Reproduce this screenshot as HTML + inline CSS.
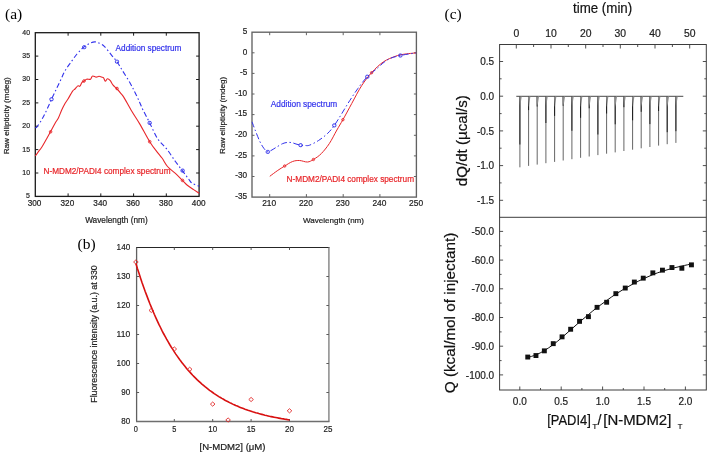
<!DOCTYPE html>
<html><head><meta charset="utf-8"><style>
html,body{margin:0;padding:0;background:#fff;}
body{width:709px;height:454px;overflow:hidden;font-family:"Liberation Sans",sans-serif;}
svg{display:block;}
#wrap{will-change:transform;opacity:0.999;}
</style></head><body>
<div id="wrap"><svg width="709" height="454" viewBox="0 0 709 454">
<rect width="709" height="454" fill="#fff"/>
<text x="5.0" y="19.0" font-size="15.50" fill="#000" text-anchor="start" font-family="Liberation Serif, serif" >(a)</text>
<rect x="35.3" y="32.7" width="163.8" height="163.7" fill="none" stroke="#1a1a1a" stroke-width="1.3"/>
<line x1="68.1" y1="196.4" x2="68.1" y2="193.4" stroke="#1a1a1a" stroke-width="1.00"/>
<line x1="68.1" y1="32.7" x2="68.1" y2="35.7" stroke="#1a1a1a" stroke-width="1.00"/>
<line x1="100.8" y1="196.4" x2="100.8" y2="193.4" stroke="#1a1a1a" stroke-width="1.00"/>
<line x1="100.8" y1="32.7" x2="100.8" y2="35.7" stroke="#1a1a1a" stroke-width="1.00"/>
<line x1="133.6" y1="196.4" x2="133.6" y2="193.4" stroke="#1a1a1a" stroke-width="1.00"/>
<line x1="133.6" y1="32.7" x2="133.6" y2="35.7" stroke="#1a1a1a" stroke-width="1.00"/>
<line x1="166.3" y1="196.4" x2="166.3" y2="193.4" stroke="#1a1a1a" stroke-width="1.00"/>
<line x1="166.3" y1="32.7" x2="166.3" y2="35.7" stroke="#1a1a1a" stroke-width="1.00"/>
<line x1="35.3" y1="173.0" x2="38.3" y2="173.0" stroke="#1a1a1a" stroke-width="1.00"/>
<line x1="199.1" y1="173.0" x2="196.1" y2="173.0" stroke="#1a1a1a" stroke-width="1.00"/>
<line x1="35.3" y1="149.6" x2="38.3" y2="149.6" stroke="#1a1a1a" stroke-width="1.00"/>
<line x1="199.1" y1="149.6" x2="196.1" y2="149.6" stroke="#1a1a1a" stroke-width="1.00"/>
<line x1="35.3" y1="126.2" x2="38.3" y2="126.2" stroke="#1a1a1a" stroke-width="1.00"/>
<line x1="199.1" y1="126.2" x2="196.1" y2="126.2" stroke="#1a1a1a" stroke-width="1.00"/>
<line x1="35.3" y1="102.9" x2="38.3" y2="102.9" stroke="#1a1a1a" stroke-width="1.00"/>
<line x1="199.1" y1="102.9" x2="196.1" y2="102.9" stroke="#1a1a1a" stroke-width="1.00"/>
<line x1="35.3" y1="79.5" x2="38.3" y2="79.5" stroke="#1a1a1a" stroke-width="1.00"/>
<line x1="199.1" y1="79.5" x2="196.1" y2="79.5" stroke="#1a1a1a" stroke-width="1.00"/>
<line x1="35.3" y1="56.1" x2="38.3" y2="56.1" stroke="#1a1a1a" stroke-width="1.00"/>
<line x1="199.1" y1="56.1" x2="196.1" y2="56.1" stroke="#1a1a1a" stroke-width="1.00"/>
<text x="30.0" y="198.3" font-size="7.80" fill="#222" stroke="#222" stroke-width="0.20" text-anchor="end" font-family="Liberation Sans, sans-serif" textLength="3.9" lengthAdjust="spacingAndGlyphs" >5</text>
<text x="30.0" y="174.9" font-size="7.80" fill="#222" stroke="#222" stroke-width="0.20" text-anchor="end" font-family="Liberation Sans, sans-serif" textLength="7.7" lengthAdjust="spacingAndGlyphs" >10</text>
<text x="30.0" y="151.5" font-size="7.80" fill="#222" stroke="#222" stroke-width="0.20" text-anchor="end" font-family="Liberation Sans, sans-serif" textLength="7.7" lengthAdjust="spacingAndGlyphs" >15</text>
<text x="30.0" y="128.1" font-size="7.80" fill="#222" stroke="#222" stroke-width="0.20" text-anchor="end" font-family="Liberation Sans, sans-serif" textLength="7.7" lengthAdjust="spacingAndGlyphs" >20</text>
<text x="30.0" y="104.8" font-size="7.80" fill="#222" stroke="#222" stroke-width="0.20" text-anchor="end" font-family="Liberation Sans, sans-serif" textLength="7.7" lengthAdjust="spacingAndGlyphs" >25</text>
<text x="30.0" y="81.4" font-size="7.80" fill="#222" stroke="#222" stroke-width="0.20" text-anchor="end" font-family="Liberation Sans, sans-serif" textLength="7.7" lengthAdjust="spacingAndGlyphs" >30</text>
<text x="30.0" y="58.0" font-size="7.80" fill="#222" stroke="#222" stroke-width="0.20" text-anchor="end" font-family="Liberation Sans, sans-serif" textLength="7.7" lengthAdjust="spacingAndGlyphs" >35</text>
<text x="30.0" y="34.6" font-size="7.80" fill="#222" stroke="#222" stroke-width="0.20" text-anchor="end" font-family="Liberation Sans, sans-serif" textLength="7.7" lengthAdjust="spacingAndGlyphs" >40</text>
<text x="34.6" y="206.0" font-size="8.20" fill="#222" stroke="#222" stroke-width="0.20" text-anchor="middle" font-family="Liberation Sans, sans-serif" >300</text>
<text x="67.4" y="206.0" font-size="8.20" fill="#222" stroke="#222" stroke-width="0.20" text-anchor="middle" font-family="Liberation Sans, sans-serif" >320</text>
<text x="100.2" y="206.0" font-size="8.20" fill="#222" stroke="#222" stroke-width="0.20" text-anchor="middle" font-family="Liberation Sans, sans-serif" >340</text>
<text x="133.1" y="206.0" font-size="8.20" fill="#222" stroke="#222" stroke-width="0.20" text-anchor="middle" font-family="Liberation Sans, sans-serif" >360</text>
<text x="165.9" y="206.0" font-size="8.20" fill="#222" stroke="#222" stroke-width="0.20" text-anchor="middle" font-family="Liberation Sans, sans-serif" >380</text>
<text x="198.7" y="206.0" font-size="8.20" fill="#222" stroke="#222" stroke-width="0.20" text-anchor="middle" font-family="Liberation Sans, sans-serif" >400</text>
<text x="116.4" y="223.2" font-size="8.30" fill="#222" stroke="#222" stroke-width="0.20" text-anchor="middle" font-family="Liberation Sans, sans-serif" textLength="62.5" lengthAdjust="spacingAndGlyphs" >Wavelength (nm)</text>
<text x="0" y="0" font-size="8.10" fill="#222" stroke="#222" stroke-width="0.20" text-anchor="middle" font-family="Liberation Sans, sans-serif" textLength="77.0" lengthAdjust="spacingAndGlyphs" transform="translate(8.8 115.8) rotate(-90)">Raw ellipticity (mdeg)</text>
<path d="M35.3 127.5 C35.6 127.4 35.9 128.2 37.0 126.8 C38.1 125.3 40.6 121.7 42.2 118.8 C43.9 115.9 45.4 112.8 46.9 109.6 C48.4 106.3 50.1 102.4 51.5 99.3 C52.9 96.2 54.0 94.1 55.4 91.1 C56.8 88.1 58.5 84.5 60.1 81.2 C61.7 77.9 63.0 74.4 64.7 71.3 C66.5 68.2 68.5 65.6 70.6 62.7 C72.6 59.8 74.8 56.5 77.0 54.0 C79.2 51.5 81.2 49.2 83.5 47.4 C85.8 45.5 88.5 43.8 90.5 42.9 C92.5 42.0 93.8 41.8 95.4 41.9 C97.0 42.0 98.5 42.8 100.0 43.5 C101.5 44.2 102.4 44.4 104.3 46.3 C106.2 48.2 109.2 52.2 111.3 54.8 C113.4 57.4 115.1 59.2 116.9 61.7 C118.7 64.2 119.8 66.2 121.9 69.7 C124.1 73.2 127.6 78.7 129.8 82.5 C132.0 86.3 133.3 89.2 135.0 92.5 C136.7 95.8 138.4 99.5 139.7 102.4 C141.0 105.3 141.3 106.6 143.0 110.0 C144.7 113.4 147.3 118.1 149.7 122.9 C152.1 127.7 154.8 134.4 157.6 138.7 C160.4 143.0 163.5 144.9 166.5 148.7 C169.5 152.5 172.6 157.7 175.4 161.5 C178.2 165.3 181.0 168.9 183.2 171.8 C185.4 174.7 187.0 176.9 188.5 178.8 C190.0 180.7 190.2 181.9 192.0 183.2 C193.8 184.4 197.9 185.8 199.1 186.3" fill="none" stroke="#3232ec" stroke-width="1.1" stroke-dasharray="5 2.5 1.5 2.5"/>
<path d="M35.3 156.0 C35.7 155.4 36.8 153.8 37.9 152.3 C39.0 150.8 40.3 149.4 41.9 147.0 C43.5 144.6 45.8 140.3 47.2 137.8 C48.6 135.3 49.2 134.2 50.5 131.8 C51.8 129.4 53.8 125.5 55.1 123.2 C56.4 120.9 57.3 120.1 58.4 117.9 C59.5 115.7 60.6 112.4 61.7 110.0 C62.8 107.6 64.0 105.3 65.0 103.5 C66.0 101.7 66.7 101.1 68.0 99.0 C69.3 96.9 71.4 92.8 72.6 91.1 C73.8 89.4 74.1 89.9 75.0 89.0 C75.9 88.1 77.0 86.4 77.8 85.9 C78.6 85.4 79.2 86.8 79.9 86.2 C80.6 85.6 81.3 83.1 82.0 82.3 C82.7 81.5 83.0 81.8 83.8 81.3 C84.6 80.8 85.5 79.5 86.6 79.2 C87.7 78.9 89.5 79.7 90.5 79.2 C91.5 78.7 91.6 76.3 92.6 76.0 C93.5 75.7 95.1 77.0 96.2 77.1 C97.3 77.1 98.1 76.3 99.0 76.3 C99.9 76.3 101.0 76.8 101.8 77.1 C102.6 77.3 103.0 77.1 103.6 77.8 C104.2 78.5 104.7 81.1 105.3 81.3 C105.9 81.5 106.6 78.9 107.4 78.8 C108.2 78.7 109.3 79.5 110.3 80.6 C111.2 81.7 112.0 83.9 113.1 85.2 C114.1 86.5 115.3 87.2 116.6 88.5 C117.9 89.8 119.6 91.8 120.8 93.3 C122.0 94.8 122.1 94.4 123.9 97.4 C125.7 100.4 129.2 106.9 131.8 111.3 C134.4 115.7 136.7 118.8 139.7 123.9 C142.7 129.0 146.7 136.9 149.7 141.7 C152.7 146.5 155.5 149.9 157.6 152.6 C159.7 155.3 160.3 155.7 162.0 158.0 C163.7 160.3 165.3 163.9 167.5 166.5 C169.7 169.1 172.9 171.1 175.4 173.4 C177.9 175.7 180.5 178.5 182.4 180.4 C184.3 182.3 185.1 183.5 187.0 185.0 C188.9 186.5 191.8 188.4 193.6 189.6 C195.4 190.8 196.7 191.7 197.6 192.3 C198.5 192.9 198.9 193.1 199.2 193.3" fill="none" stroke="#e8262a" stroke-width="1.1"/>
<rect x="49.9" y="97.8" width="3.2" height="3.0" rx="1.1" fill="none" stroke="#3232ec" stroke-width="1.0"/>
<rect x="82.6" y="45.7" width="3.2" height="3.0" rx="1.1" fill="none" stroke="#3232ec" stroke-width="1.0"/>
<rect x="115.4" y="60.2" width="3.2" height="3.0" rx="1.1" fill="none" stroke="#3232ec" stroke-width="1.0"/>
<rect x="148.1" y="121.4" width="3.2" height="3.0" rx="1.1" fill="none" stroke="#3232ec" stroke-width="1.0"/>
<rect x="181.0" y="169.1" width="3.2" height="3.0" rx="1.1" fill="none" stroke="#3232ec" stroke-width="1.0"/>
<circle cx="50.6" cy="131.8" r="1.3" fill="none" stroke="#e8262a" stroke-width="0.9"/>
<circle cx="84.0" cy="81.0" r="1.3" fill="none" stroke="#e8262a" stroke-width="0.9"/>
<circle cx="117.0" cy="88.5" r="1.3" fill="none" stroke="#e8262a" stroke-width="0.9"/>
<circle cx="149.7" cy="141.7" r="1.3" fill="none" stroke="#e8262a" stroke-width="0.9"/>
<circle cx="182.5" cy="180.4" r="1.3" fill="none" stroke="#e8262a" stroke-width="0.9"/>
<text x="115.6" y="51.2" font-size="8.20" fill="#3232ec" stroke="#3232ec" stroke-width="0.20" text-anchor="start" font-family="Liberation Sans, sans-serif" textLength="65.8" lengthAdjust="spacingAndGlyphs" >Addition spectrum</text>
<text x="43.5" y="173.8" font-size="8.20" fill="#e8262a" stroke="#e8262a" stroke-width="0.20" text-anchor="start" font-family="Liberation Sans, sans-serif" textLength="127.0" lengthAdjust="spacingAndGlyphs" >N-MDM2/PADI4 complex spectrum</text>
<rect x="252.0" y="32.2" width="164.4" height="164.9" fill="none" stroke="#626262" stroke-width="1.35"/>
<line x1="269.7" y1="197.1" x2="269.7" y2="194.1" stroke="#626262" stroke-width="1.00"/>
<line x1="269.7" y1="32.2" x2="269.7" y2="35.2" stroke="#626262" stroke-width="1.00"/>
<line x1="306.4" y1="197.1" x2="306.4" y2="194.1" stroke="#626262" stroke-width="1.00"/>
<line x1="306.4" y1="32.2" x2="306.4" y2="35.2" stroke="#626262" stroke-width="1.00"/>
<line x1="343.2" y1="197.1" x2="343.2" y2="194.1" stroke="#626262" stroke-width="1.00"/>
<line x1="343.2" y1="32.2" x2="343.2" y2="35.2" stroke="#626262" stroke-width="1.00"/>
<line x1="379.9" y1="197.1" x2="379.9" y2="194.1" stroke="#626262" stroke-width="1.00"/>
<line x1="379.9" y1="32.2" x2="379.9" y2="35.2" stroke="#626262" stroke-width="1.00"/>
<line x1="252.0" y1="52.8" x2="254.5" y2="52.8" stroke="#626262" stroke-width="1.00"/>
<line x1="416.4" y1="52.8" x2="413.9" y2="52.8" stroke="#626262" stroke-width="1.00"/>
<line x1="252.0" y1="73.4" x2="254.5" y2="73.4" stroke="#626262" stroke-width="1.00"/>
<line x1="416.4" y1="73.4" x2="413.9" y2="73.4" stroke="#626262" stroke-width="1.00"/>
<line x1="252.0" y1="94.0" x2="254.5" y2="94.0" stroke="#626262" stroke-width="1.00"/>
<line x1="416.4" y1="94.0" x2="413.9" y2="94.0" stroke="#626262" stroke-width="1.00"/>
<line x1="252.0" y1="114.6" x2="254.5" y2="114.6" stroke="#626262" stroke-width="1.00"/>
<line x1="416.4" y1="114.6" x2="413.9" y2="114.6" stroke="#626262" stroke-width="1.00"/>
<line x1="252.0" y1="135.3" x2="254.5" y2="135.3" stroke="#626262" stroke-width="1.00"/>
<line x1="416.4" y1="135.3" x2="413.9" y2="135.3" stroke="#626262" stroke-width="1.00"/>
<line x1="252.0" y1="155.9" x2="254.5" y2="155.9" stroke="#626262" stroke-width="1.00"/>
<line x1="416.4" y1="155.9" x2="413.9" y2="155.9" stroke="#626262" stroke-width="1.00"/>
<line x1="252.0" y1="176.5" x2="254.5" y2="176.5" stroke="#626262" stroke-width="1.00"/>
<line x1="416.4" y1="176.5" x2="413.9" y2="176.5" stroke="#626262" stroke-width="1.00"/>
<text x="247.2" y="33.9" font-size="8.20" fill="#222" stroke="#222" stroke-width="0.20" text-anchor="end" font-family="Liberation Sans, sans-serif" >5</text>
<text x="247.2" y="54.5" font-size="8.20" fill="#222" stroke="#222" stroke-width="0.20" text-anchor="end" font-family="Liberation Sans, sans-serif" >0</text>
<text x="247.2" y="75.1" font-size="8.20" fill="#222" stroke="#222" stroke-width="0.20" text-anchor="end" font-family="Liberation Sans, sans-serif" >-5</text>
<text x="247.2" y="95.7" font-size="8.20" fill="#222" stroke="#222" stroke-width="0.20" text-anchor="end" font-family="Liberation Sans, sans-serif" >-10</text>
<text x="247.2" y="116.3" font-size="8.20" fill="#222" stroke="#222" stroke-width="0.20" text-anchor="end" font-family="Liberation Sans, sans-serif" >-15</text>
<text x="247.2" y="137.0" font-size="8.20" fill="#222" stroke="#222" stroke-width="0.20" text-anchor="end" font-family="Liberation Sans, sans-serif" >-20</text>
<text x="247.2" y="157.6" font-size="8.20" fill="#222" stroke="#222" stroke-width="0.20" text-anchor="end" font-family="Liberation Sans, sans-serif" >-25</text>
<text x="247.2" y="178.2" font-size="8.20" fill="#222" stroke="#222" stroke-width="0.20" text-anchor="end" font-family="Liberation Sans, sans-serif" >-30</text>
<text x="247.2" y="198.8" font-size="8.20" fill="#222" stroke="#222" stroke-width="0.20" text-anchor="end" font-family="Liberation Sans, sans-serif" >-35</text>
<text x="269.2" y="205.9" font-size="8.40" fill="#222" stroke="#222" stroke-width="0.20" text-anchor="middle" font-family="Liberation Sans, sans-serif" >210</text>
<text x="305.9" y="205.9" font-size="8.40" fill="#222" stroke="#222" stroke-width="0.20" text-anchor="middle" font-family="Liberation Sans, sans-serif" >220</text>
<text x="342.7" y="205.9" font-size="8.40" fill="#222" stroke="#222" stroke-width="0.20" text-anchor="middle" font-family="Liberation Sans, sans-serif" >230</text>
<text x="379.4" y="205.9" font-size="8.40" fill="#222" stroke="#222" stroke-width="0.20" text-anchor="middle" font-family="Liberation Sans, sans-serif" >240</text>
<text x="416.1" y="205.9" font-size="8.40" fill="#222" stroke="#222" stroke-width="0.20" text-anchor="middle" font-family="Liberation Sans, sans-serif" >250</text>
<text x="333.5" y="222.7" font-size="7.80" fill="#222" stroke="#222" stroke-width="0.20" text-anchor="middle" font-family="Liberation Sans, sans-serif" textLength="61.0" lengthAdjust="spacingAndGlyphs" >Wavelength (nm)</text>
<text x="0" y="0" font-size="7.90" fill="#222" stroke="#222" stroke-width="0.20" text-anchor="middle" font-family="Liberation Sans, sans-serif" textLength="77.0" lengthAdjust="spacingAndGlyphs" transform="translate(224.6 115.4) rotate(-90)">Raw ellipticity (mdeg)</text>
<path d="M269.8 176.3 C271.1 175.3 275.3 172.1 277.8 170.4 C280.3 168.7 282.2 167.5 284.7 166.0 C287.2 164.5 290.1 162.4 292.6 161.5 C295.1 160.6 297.1 160.4 299.6 160.5 C302.1 160.6 305.2 162.2 307.5 162.0 C309.8 161.8 311.1 160.9 313.4 159.5 C315.7 158.1 318.8 156.2 321.4 153.5 C324.0 150.8 326.7 147.5 329.3 143.6 C331.9 139.7 334.6 134.0 336.9 130.0 C339.2 126.0 340.4 124.1 342.9 119.7 C345.4 115.3 348.7 109.1 351.8 103.4 C354.9 97.7 358.4 90.7 361.7 85.6 C365.0 80.5 368.0 76.7 371.6 72.7 C375.2 68.7 379.5 64.5 383.5 61.8 C387.5 59.1 392.1 57.5 395.4 56.3 C398.7 55.0 399.9 54.9 403.4 54.3 C406.9 53.7 414.1 53.1 416.2 52.9" fill="none" stroke="#e8262a" stroke-width="1.0"/>
<path d="M252.0 121.8 C252.5 123.1 253.7 126.4 255.0 129.7 C256.3 133.0 258.4 138.5 259.9 141.6 C261.4 144.7 262.7 146.8 264.0 148.5 C265.3 150.2 266.6 151.6 267.8 151.9 C269.0 152.2 269.7 151.2 271.0 150.5 C272.3 149.8 273.9 148.8 275.8 147.6 C277.8 146.4 280.8 144.4 282.7 143.6 C284.6 142.8 285.5 142.7 287.0 142.5 C288.5 142.3 290.1 142.3 291.6 142.6 C293.1 142.8 294.5 143.6 296.0 144.0 C297.5 144.4 299.1 144.9 300.6 145.2 C302.1 145.4 303.5 145.5 305.0 145.5 C306.5 145.5 307.3 146.0 309.5 145.2 C311.7 144.4 315.4 142.5 318.4 140.6 C321.4 138.7 324.6 136.2 327.3 133.7 C330.0 131.2 331.9 128.8 334.3 125.4 C336.7 122.0 339.3 117.6 341.9 113.4 C344.5 109.2 347.1 104.6 349.8 100.5 C352.5 96.4 354.9 92.6 357.8 88.6 C360.7 84.6 364.3 79.8 367.3 76.7 C370.3 73.6 372.2 72.5 375.6 69.7 C379.0 66.9 383.4 62.2 387.5 59.8 C391.6 57.4 395.6 56.6 400.4 55.5 C405.2 54.4 413.6 53.3 416.2 52.9" fill="none" stroke="#3232ec" stroke-width="1.0" stroke-dasharray="6 2.5 1.5 2.5"/>
<rect x="266.2" y="150.4" width="3.2" height="3.0" rx="1.1" fill="none" stroke="#3232ec" stroke-width="1.0"/>
<rect x="299.0" y="143.7" width="3.2" height="3.0" rx="1.1" fill="none" stroke="#3232ec" stroke-width="1.0"/>
<rect x="332.7" y="123.9" width="3.2" height="3.0" rx="1.1" fill="none" stroke="#3232ec" stroke-width="1.0"/>
<rect x="365.7" y="75.2" width="3.2" height="3.0" rx="1.1" fill="none" stroke="#3232ec" stroke-width="1.0"/>
<rect x="398.8" y="54.0" width="3.2" height="3.0" rx="1.1" fill="none" stroke="#3232ec" stroke-width="1.0"/>
<circle cx="284.7" cy="166.0" r="1.2" fill="none" stroke="#e8262a" stroke-width="0.9"/>
<circle cx="313.4" cy="159.5" r="1.2" fill="none" stroke="#e8262a" stroke-width="0.9"/>
<circle cx="342.9" cy="119.7" r="1.2" fill="none" stroke="#e8262a" stroke-width="0.9"/>
<circle cx="371.6" cy="72.7" r="1.2" fill="none" stroke="#e8262a" stroke-width="0.9"/>
<text x="270.8" y="106.8" font-size="8.80" fill="#3232ec" stroke="#3232ec" stroke-width="0.20" text-anchor="start" font-family="Liberation Sans, sans-serif" textLength="66.4" lengthAdjust="spacingAndGlyphs" >Addition spectrum</text>
<text x="286.6" y="181.7" font-size="8.40" fill="#e8262a" stroke="#e8262a" stroke-width="0.20" text-anchor="start" font-family="Liberation Sans, sans-serif" textLength="127.4" lengthAdjust="spacingAndGlyphs" >N-MDM2/PADI4 complex spectrum</text>
<text x="77.6" y="249.0" font-size="15.50" fill="#000" text-anchor="start" font-family="Liberation Serif, serif" >(b)</text>
<line x1="136.0" y1="247.5" x2="329.5" y2="247.5" stroke="#262626" stroke-width="1.00"/>
<line x1="328.9" y1="247.5" x2="328.9" y2="421.5" stroke="#8a8a8a" stroke-width="1.50"/>
<line x1="136.6" y1="247.5" x2="136.6" y2="421.5" stroke="#606060" stroke-width="1.30"/>
<line x1="136.0" y1="421.5" x2="329.5" y2="421.5" stroke="#6e6e6e" stroke-width="1.50"/>
<line x1="174.3" y1="421.5" x2="174.3" y2="419.0" stroke="#5a5a5a" stroke-width="1.00"/>
<line x1="174.3" y1="247.5" x2="174.3" y2="250.0" stroke="#5a5a5a" stroke-width="1.00"/>
<line x1="212.7" y1="421.5" x2="212.7" y2="419.0" stroke="#5a5a5a" stroke-width="1.00"/>
<line x1="212.7" y1="247.5" x2="212.7" y2="250.0" stroke="#5a5a5a" stroke-width="1.00"/>
<line x1="251.1" y1="421.5" x2="251.1" y2="419.0" stroke="#5a5a5a" stroke-width="1.00"/>
<line x1="251.1" y1="247.5" x2="251.1" y2="250.0" stroke="#5a5a5a" stroke-width="1.00"/>
<line x1="289.5" y1="421.5" x2="289.5" y2="419.0" stroke="#5a5a5a" stroke-width="1.00"/>
<line x1="289.5" y1="247.5" x2="289.5" y2="250.0" stroke="#5a5a5a" stroke-width="1.00"/>
<line x1="136.6" y1="392.5" x2="139.1" y2="392.5" stroke="#5a5a5a" stroke-width="1.00"/>
<line x1="328.9" y1="392.5" x2="326.4" y2="392.5" stroke="#5a5a5a" stroke-width="1.00"/>
<line x1="136.6" y1="363.5" x2="139.1" y2="363.5" stroke="#5a5a5a" stroke-width="1.00"/>
<line x1="328.9" y1="363.5" x2="326.4" y2="363.5" stroke="#5a5a5a" stroke-width="1.00"/>
<line x1="136.6" y1="334.5" x2="139.1" y2="334.5" stroke="#5a5a5a" stroke-width="1.00"/>
<line x1="328.9" y1="334.5" x2="326.4" y2="334.5" stroke="#5a5a5a" stroke-width="1.00"/>
<line x1="136.6" y1="305.5" x2="139.1" y2="305.5" stroke="#5a5a5a" stroke-width="1.00"/>
<line x1="328.9" y1="305.5" x2="326.4" y2="305.5" stroke="#5a5a5a" stroke-width="1.00"/>
<line x1="136.6" y1="276.5" x2="139.1" y2="276.5" stroke="#5a5a5a" stroke-width="1.00"/>
<line x1="328.9" y1="276.5" x2="326.4" y2="276.5" stroke="#5a5a5a" stroke-width="1.00"/>
<text x="130.2" y="423.9" font-size="9.30" fill="#222" stroke="#222" stroke-width="0.20" text-anchor="end" font-family="Liberation Sans, sans-serif" textLength="8.9" lengthAdjust="spacingAndGlyphs" >80</text>
<text x="130.2" y="394.9" font-size="9.30" fill="#222" stroke="#222" stroke-width="0.20" text-anchor="end" font-family="Liberation Sans, sans-serif" textLength="8.9" lengthAdjust="spacingAndGlyphs" >90</text>
<text x="130.2" y="365.9" font-size="9.30" fill="#222" stroke="#222" stroke-width="0.20" text-anchor="end" font-family="Liberation Sans, sans-serif" textLength="13.6" lengthAdjust="spacingAndGlyphs" >100</text>
<text x="130.2" y="336.9" font-size="9.30" fill="#222" stroke="#222" stroke-width="0.20" text-anchor="end" font-family="Liberation Sans, sans-serif" textLength="13.6" lengthAdjust="spacingAndGlyphs" >110</text>
<text x="130.2" y="307.9" font-size="9.30" fill="#222" stroke="#222" stroke-width="0.20" text-anchor="end" font-family="Liberation Sans, sans-serif" textLength="13.6" lengthAdjust="spacingAndGlyphs" >120</text>
<text x="130.2" y="278.9" font-size="9.30" fill="#222" stroke="#222" stroke-width="0.20" text-anchor="end" font-family="Liberation Sans, sans-serif" textLength="13.6" lengthAdjust="spacingAndGlyphs" >130</text>
<text x="130.2" y="249.9" font-size="9.30" fill="#222" stroke="#222" stroke-width="0.20" text-anchor="end" font-family="Liberation Sans, sans-serif" textLength="13.6" lengthAdjust="spacingAndGlyphs" >140</text>
<text x="135.9" y="431.9" font-size="9.10" fill="#222" stroke="#222" stroke-width="0.20" text-anchor="middle" font-family="Liberation Sans, sans-serif" textLength="4.1" lengthAdjust="spacingAndGlyphs" >0</text>
<text x="174.3" y="431.9" font-size="9.10" fill="#222" stroke="#222" stroke-width="0.20" text-anchor="middle" font-family="Liberation Sans, sans-serif" textLength="4.1" lengthAdjust="spacingAndGlyphs" >5</text>
<text x="212.7" y="431.9" font-size="9.10" fill="#222" stroke="#222" stroke-width="0.20" text-anchor="middle" font-family="Liberation Sans, sans-serif" textLength="8.9" lengthAdjust="spacingAndGlyphs" >10</text>
<text x="251.1" y="431.9" font-size="9.10" fill="#222" stroke="#222" stroke-width="0.20" text-anchor="middle" font-family="Liberation Sans, sans-serif" textLength="8.9" lengthAdjust="spacingAndGlyphs" >15</text>
<text x="289.5" y="431.9" font-size="9.10" fill="#222" stroke="#222" stroke-width="0.20" text-anchor="middle" font-family="Liberation Sans, sans-serif" textLength="8.9" lengthAdjust="spacingAndGlyphs" >20</text>
<text x="327.9" y="431.9" font-size="9.10" fill="#222" stroke="#222" stroke-width="0.20" text-anchor="middle" font-family="Liberation Sans, sans-serif" textLength="8.9" lengthAdjust="spacingAndGlyphs" >25</text>
<text x="199.5" y="450.0" font-size="8.70" fill="#222" stroke="#222" stroke-width="0.20" text-anchor="start" font-family="Liberation Sans, sans-serif" textLength="66.0" lengthAdjust="spacingAndGlyphs" >[N-MDM2] (μM)</text>
<text x="0" y="0" font-size="8.80" fill="#222" stroke="#222" stroke-width="0.20" text-anchor="middle" font-family="Liberation Sans, sans-serif" textLength="137.5" lengthAdjust="spacingAndGlyphs" transform="translate(96.6 334.0) rotate(-90)">Fluorescence intensity (a.u.) at 330</text>
<path d="M135.9 263.4 L137.4 268.5 L139.0 273.3 L140.5 278.0 L142.0 282.6 L143.6 287.0 L145.1 291.3 L146.7 295.4 L148.2 299.4 L149.7 303.3 L151.3 307.1 L152.8 310.8 L154.3 314.3 L155.9 317.8 L157.4 321.1 L158.9 324.4 L160.5 327.5 L162.0 330.6 L163.5 333.5 L165.1 336.4 L166.6 339.2 L168.2 341.8 L169.7 344.5 L171.2 347.0 L172.8 349.4 L174.3 351.8 L175.8 354.1 L177.4 356.4 L178.9 358.5 L180.4 360.6 L182.0 362.7 L183.5 364.6 L185.1 366.5 L186.6 368.4 L188.1 370.2 L189.7 371.9 L191.2 373.6 L192.7 375.3 L194.3 376.9 L195.8 378.4 L197.3 379.9 L198.9 381.3 L200.4 382.7 L201.9 384.1 L203.5 385.4 L205.0 386.7 L206.6 387.9 L208.1 389.1 L209.6 390.3 L211.2 391.4 L212.7 392.5 L214.2 393.6 L215.8 394.6 L217.3 395.6 L218.8 396.6 L220.4 397.5 L221.9 398.4 L223.5 399.3 L225.0 400.2 L226.5 401.0 L228.1 401.8 L229.6 402.6 L231.1 403.3 L232.7 404.1 L234.2 404.8 L235.7 405.5 L237.3 406.1 L238.8 406.8 L240.3 407.4 L241.9 408.0 L243.4 408.6 L245.0 409.2 L246.5 409.7 L248.0 410.3 L249.6 410.8 L251.1 411.3 L252.6 411.8 L254.2 412.2 L255.7 412.7 L257.2 413.1 L258.8 413.6 L260.3 414.0 L261.9 414.4 L263.4 414.8 L264.9 415.2 L266.5 415.5 L268.0 415.9 L269.5 416.3 L271.1 416.6 L272.6 416.9 L274.1 417.2 L275.7 417.5 L277.2 417.8 L278.7 418.1 L280.3 418.4 L281.8 418.7 L283.4 418.9 L284.9 419.2 L286.4 419.4 L288.0 419.7 L289.5 419.9" fill="none" stroke="#d81010" stroke-width="1.6"/>
<path d="M135.9 259.9 l2.3 2.1 l-2.3 2.1 l-2.3 -2.1 z" fill="none" stroke="#e02020" stroke-width="0.85"/>
<path d="M151.3 308.3 l2.3 2.1 l-2.3 2.1 l-2.3 -2.1 z" fill="none" stroke="#e02020" stroke-width="0.85"/>
<path d="M174.3 346.9 l2.3 2.1 l-2.3 2.1 l-2.3 -2.1 z" fill="none" stroke="#e02020" stroke-width="0.85"/>
<path d="M189.7 367.2 l2.3 2.1 l-2.3 2.1 l-2.3 -2.1 z" fill="none" stroke="#e02020" stroke-width="0.85"/>
<path d="M212.7 402.0 l2.3 2.1 l-2.3 2.1 l-2.3 -2.1 z" fill="none" stroke="#e02020" stroke-width="0.85"/>
<path d="M228.1 417.9 l2.3 2.1 l-2.3 2.1 l-2.3 -2.1 z" fill="none" stroke="#e02020" stroke-width="0.85"/>
<path d="M251.1 397.4 l2.3 2.1 l-2.3 2.1 l-2.3 -2.1 z" fill="none" stroke="#e02020" stroke-width="0.85"/>
<path d="M289.5 408.7 l2.3 2.1 l-2.3 2.1 l-2.3 -2.1 z" fill="none" stroke="#e02020" stroke-width="0.85"/>
<text x="444.5" y="19.3" font-size="15.50" fill="#000" text-anchor="start" font-family="Liberation Serif, serif" >(c)</text>
<rect x="499.6" y="44.5" width="206.7" height="345.5" fill="none" stroke="#3c3c3c" stroke-width="1.0"/>
<line x1="499.6" y1="217.3" x2="706.3" y2="217.3" stroke="#3c3c3c" stroke-width="1.00"/>
<line x1="516.3" y1="44.5" x2="516.3" y2="48.5" stroke="#3c3c3c" stroke-width="0.90"/>
<line x1="533.6" y1="44.5" x2="533.6" y2="47.0" stroke="#3c3c3c" stroke-width="0.90"/>
<line x1="551.0" y1="44.5" x2="551.0" y2="48.5" stroke="#3c3c3c" stroke-width="0.90"/>
<line x1="568.3" y1="44.5" x2="568.3" y2="47.0" stroke="#3c3c3c" stroke-width="0.90"/>
<line x1="585.7" y1="44.5" x2="585.7" y2="48.5" stroke="#3c3c3c" stroke-width="0.90"/>
<line x1="603.0" y1="44.5" x2="603.0" y2="47.0" stroke="#3c3c3c" stroke-width="0.90"/>
<line x1="620.3" y1="44.5" x2="620.3" y2="48.5" stroke="#3c3c3c" stroke-width="0.90"/>
<line x1="637.7" y1="44.5" x2="637.7" y2="47.0" stroke="#3c3c3c" stroke-width="0.90"/>
<line x1="655.0" y1="44.5" x2="655.0" y2="48.5" stroke="#3c3c3c" stroke-width="0.90"/>
<line x1="672.4" y1="44.5" x2="672.4" y2="47.0" stroke="#3c3c3c" stroke-width="0.90"/>
<line x1="689.7" y1="44.5" x2="689.7" y2="48.5" stroke="#3c3c3c" stroke-width="0.90"/>
<text x="516.3" y="36.7" font-size="10.40" fill="#222" stroke="#222" stroke-width="0.20" text-anchor="middle" font-family="Liberation Sans, sans-serif" >0</text>
<text x="551.0" y="36.7" font-size="10.40" fill="#222" stroke="#222" stroke-width="0.20" text-anchor="middle" font-family="Liberation Sans, sans-serif" >10</text>
<text x="585.7" y="36.7" font-size="10.40" fill="#222" stroke="#222" stroke-width="0.20" text-anchor="middle" font-family="Liberation Sans, sans-serif" >20</text>
<text x="620.3" y="36.7" font-size="10.40" fill="#222" stroke="#222" stroke-width="0.20" text-anchor="middle" font-family="Liberation Sans, sans-serif" >30</text>
<text x="655.0" y="36.7" font-size="10.40" fill="#222" stroke="#222" stroke-width="0.20" text-anchor="middle" font-family="Liberation Sans, sans-serif" >40</text>
<text x="689.7" y="36.7" font-size="10.40" fill="#222" stroke="#222" stroke-width="0.20" text-anchor="middle" font-family="Liberation Sans, sans-serif" >50</text>
<text x="602.6" y="12.9" font-size="14.40" fill="#111" stroke="#111" stroke-width="0.20" text-anchor="middle" font-family="Liberation Sans, sans-serif" textLength="59.2" lengthAdjust="spacingAndGlyphs" >time (min)</text>
<line x1="499.6" y1="200.3" x2="503.1" y2="200.3" stroke="#3c3c3c" stroke-width="0.90"/>
<line x1="706.3" y1="200.3" x2="702.8" y2="200.3" stroke="#3c3c3c" stroke-width="0.90"/>
<line x1="499.6" y1="182.9" x2="501.6" y2="182.9" stroke="#3c3c3c" stroke-width="0.90"/>
<line x1="706.3" y1="182.9" x2="704.3" y2="182.9" stroke="#3c3c3c" stroke-width="0.90"/>
<line x1="499.6" y1="165.6" x2="503.1" y2="165.6" stroke="#3c3c3c" stroke-width="0.90"/>
<line x1="706.3" y1="165.6" x2="702.8" y2="165.6" stroke="#3c3c3c" stroke-width="0.90"/>
<line x1="499.6" y1="148.2" x2="501.6" y2="148.2" stroke="#3c3c3c" stroke-width="0.90"/>
<line x1="706.3" y1="148.2" x2="704.3" y2="148.2" stroke="#3c3c3c" stroke-width="0.90"/>
<line x1="499.6" y1="130.9" x2="503.1" y2="130.9" stroke="#3c3c3c" stroke-width="0.90"/>
<line x1="706.3" y1="130.9" x2="702.8" y2="130.9" stroke="#3c3c3c" stroke-width="0.90"/>
<line x1="499.6" y1="113.6" x2="501.6" y2="113.6" stroke="#3c3c3c" stroke-width="0.90"/>
<line x1="706.3" y1="113.6" x2="704.3" y2="113.6" stroke="#3c3c3c" stroke-width="0.90"/>
<line x1="499.6" y1="96.2" x2="503.1" y2="96.2" stroke="#3c3c3c" stroke-width="0.90"/>
<line x1="706.3" y1="96.2" x2="702.8" y2="96.2" stroke="#3c3c3c" stroke-width="0.90"/>
<line x1="499.6" y1="78.8" x2="501.6" y2="78.8" stroke="#3c3c3c" stroke-width="0.90"/>
<line x1="706.3" y1="78.8" x2="704.3" y2="78.8" stroke="#3c3c3c" stroke-width="0.90"/>
<line x1="499.6" y1="61.5" x2="503.1" y2="61.5" stroke="#3c3c3c" stroke-width="0.90"/>
<line x1="706.3" y1="61.5" x2="702.8" y2="61.5" stroke="#3c3c3c" stroke-width="0.90"/>
<text x="494.2" y="65.1" font-size="10.00" fill="#222" stroke="#222" stroke-width="0.20" text-anchor="end" font-family="Liberation Sans, sans-serif" >0.5</text>
<text x="494.2" y="99.8" font-size="10.00" fill="#222" stroke="#222" stroke-width="0.20" text-anchor="end" font-family="Liberation Sans, sans-serif" >0.0</text>
<text x="494.2" y="134.5" font-size="10.00" fill="#222" stroke="#222" stroke-width="0.20" text-anchor="end" font-family="Liberation Sans, sans-serif" >-0.5</text>
<text x="494.2" y="169.2" font-size="10.00" fill="#222" stroke="#222" stroke-width="0.20" text-anchor="end" font-family="Liberation Sans, sans-serif" >-1.0</text>
<text x="494.2" y="203.9" font-size="10.00" fill="#222" stroke="#222" stroke-width="0.20" text-anchor="end" font-family="Liberation Sans, sans-serif" >-1.5</text>
<line x1="499.6" y1="374.9" x2="503.1" y2="374.9" stroke="#3c3c3c" stroke-width="0.90"/>
<line x1="706.3" y1="374.9" x2="702.8" y2="374.9" stroke="#3c3c3c" stroke-width="0.90"/>
<line x1="499.6" y1="360.6" x2="501.6" y2="360.6" stroke="#3c3c3c" stroke-width="0.90"/>
<line x1="706.3" y1="360.6" x2="704.3" y2="360.6" stroke="#3c3c3c" stroke-width="0.90"/>
<line x1="499.6" y1="346.2" x2="503.1" y2="346.2" stroke="#3c3c3c" stroke-width="0.90"/>
<line x1="706.3" y1="346.2" x2="702.8" y2="346.2" stroke="#3c3c3c" stroke-width="0.90"/>
<line x1="499.6" y1="331.9" x2="501.6" y2="331.9" stroke="#3c3c3c" stroke-width="0.90"/>
<line x1="706.3" y1="331.9" x2="704.3" y2="331.9" stroke="#3c3c3c" stroke-width="0.90"/>
<line x1="499.6" y1="317.5" x2="503.1" y2="317.5" stroke="#3c3c3c" stroke-width="0.90"/>
<line x1="706.3" y1="317.5" x2="702.8" y2="317.5" stroke="#3c3c3c" stroke-width="0.90"/>
<line x1="499.6" y1="303.1" x2="501.6" y2="303.1" stroke="#3c3c3c" stroke-width="0.90"/>
<line x1="706.3" y1="303.1" x2="704.3" y2="303.1" stroke="#3c3c3c" stroke-width="0.90"/>
<line x1="499.6" y1="288.8" x2="503.1" y2="288.8" stroke="#3c3c3c" stroke-width="0.90"/>
<line x1="706.3" y1="288.8" x2="702.8" y2="288.8" stroke="#3c3c3c" stroke-width="0.90"/>
<line x1="499.6" y1="274.4" x2="501.6" y2="274.4" stroke="#3c3c3c" stroke-width="0.90"/>
<line x1="706.3" y1="274.4" x2="704.3" y2="274.4" stroke="#3c3c3c" stroke-width="0.90"/>
<line x1="499.6" y1="260.1" x2="503.1" y2="260.1" stroke="#3c3c3c" stroke-width="0.90"/>
<line x1="706.3" y1="260.1" x2="702.8" y2="260.1" stroke="#3c3c3c" stroke-width="0.90"/>
<line x1="499.6" y1="245.8" x2="501.6" y2="245.8" stroke="#3c3c3c" stroke-width="0.90"/>
<line x1="706.3" y1="245.8" x2="704.3" y2="245.8" stroke="#3c3c3c" stroke-width="0.90"/>
<line x1="499.6" y1="231.4" x2="503.1" y2="231.4" stroke="#3c3c3c" stroke-width="0.90"/>
<line x1="706.3" y1="231.4" x2="702.8" y2="231.4" stroke="#3c3c3c" stroke-width="0.90"/>
<text x="494.2" y="235.0" font-size="10.00" fill="#222" stroke="#222" stroke-width="0.20" text-anchor="end" font-family="Liberation Sans, sans-serif" >-50.0</text>
<text x="494.2" y="263.7" font-size="10.00" fill="#222" stroke="#222" stroke-width="0.20" text-anchor="end" font-family="Liberation Sans, sans-serif" >-60.0</text>
<text x="494.2" y="292.4" font-size="10.00" fill="#222" stroke="#222" stroke-width="0.20" text-anchor="end" font-family="Liberation Sans, sans-serif" >-70.0</text>
<text x="494.2" y="321.1" font-size="10.00" fill="#222" stroke="#222" stroke-width="0.20" text-anchor="end" font-family="Liberation Sans, sans-serif" >-80.0</text>
<text x="494.2" y="349.8" font-size="10.00" fill="#222" stroke="#222" stroke-width="0.20" text-anchor="end" font-family="Liberation Sans, sans-serif" >-90.0</text>
<text x="494.2" y="378.5" font-size="10.00" fill="#222" stroke="#222" stroke-width="0.20" text-anchor="end" font-family="Liberation Sans, sans-serif" >-100.0</text>
<line x1="519.8" y1="390.0" x2="519.8" y2="386.5" stroke="#3c3c3c" stroke-width="0.90"/>
<line x1="540.5" y1="390.0" x2="540.5" y2="388.0" stroke="#3c3c3c" stroke-width="0.90"/>
<line x1="561.2" y1="390.0" x2="561.2" y2="386.5" stroke="#3c3c3c" stroke-width="0.90"/>
<line x1="581.9" y1="390.0" x2="581.9" y2="388.0" stroke="#3c3c3c" stroke-width="0.90"/>
<line x1="602.6" y1="390.0" x2="602.6" y2="386.5" stroke="#3c3c3c" stroke-width="0.90"/>
<line x1="623.3" y1="390.0" x2="623.3" y2="388.0" stroke="#3c3c3c" stroke-width="0.90"/>
<line x1="644.0" y1="390.0" x2="644.0" y2="386.5" stroke="#3c3c3c" stroke-width="0.90"/>
<line x1="664.7" y1="390.0" x2="664.7" y2="388.0" stroke="#3c3c3c" stroke-width="0.90"/>
<line x1="685.4" y1="390.0" x2="685.4" y2="386.5" stroke="#3c3c3c" stroke-width="0.90"/>
<text x="519.8" y="405.2" font-size="10.00" fill="#222" stroke="#222" stroke-width="0.20" text-anchor="middle" font-family="Liberation Sans, sans-serif" >0.0</text>
<text x="561.2" y="405.2" font-size="10.00" fill="#222" stroke="#222" stroke-width="0.20" text-anchor="middle" font-family="Liberation Sans, sans-serif" >0.5</text>
<text x="602.6" y="405.2" font-size="10.00" fill="#222" stroke="#222" stroke-width="0.20" text-anchor="middle" font-family="Liberation Sans, sans-serif" >1.0</text>
<text x="644.0" y="405.2" font-size="10.00" fill="#222" stroke="#222" stroke-width="0.20" text-anchor="middle" font-family="Liberation Sans, sans-serif" >1.5</text>
<text x="685.4" y="405.2" font-size="10.00" fill="#222" stroke="#222" stroke-width="0.20" text-anchor="middle" font-family="Liberation Sans, sans-serif" >2.0</text>
<text x="0" y="0" font-size="15.10" fill="#111" stroke="#111" stroke-width="0.20" text-anchor="middle" font-family="Liberation Sans, sans-serif" textLength="91.0" lengthAdjust="spacingAndGlyphs" transform="translate(466.9 140.7) rotate(-90)">dQ/dt (µcal/s)</text>
<text x="0" y="0" font-size="15.30" fill="#111" stroke="#111" stroke-width="0.20" text-anchor="middle" font-family="Liberation Sans, sans-serif" textLength="160.5" lengthAdjust="spacingAndGlyphs" transform="translate(454.6 313.0) rotate(-90)">Q (kcal/mol of injectant)</text>
<text x="547.2" y="425.3" font-size="14.2" fill="#111" stroke="#111" stroke-width="0.2" font-family="Liberation Sans, sans-serif" textLength="43.6" lengthAdjust="spacingAndGlyphs">[PADI4]</text>
<text x="592.6" y="429.4" font-size="7.6" fill="#111" stroke="#111" stroke-width="0.2" font-family="Liberation Sans, sans-serif">T</text>
<text x="597.6" y="425.3" font-size="14.2" fill="#111" stroke="#111" stroke-width="0.2" font-family="Liberation Sans, sans-serif">/</text>
<text x="603.3" y="425.3" font-size="14.2" fill="#111" stroke="#111" stroke-width="0.2" font-family="Liberation Sans, sans-serif" textLength="68" lengthAdjust="spacingAndGlyphs">[N-MDM2]</text>
<text x="677.8" y="428.8" font-size="7.6" fill="#111" stroke="#111" stroke-width="0.2" font-family="Liberation Sans, sans-serif">T</text>
<path d="M516.3 96.3 L683.3 96.3" stroke="#1a1a1a" stroke-width="0.8" fill="none"/>
<path d="M519.9 96.2 L519.9 167.3" stroke="#555" stroke-width="0.9" fill="none"/>
<path d="M519.9 96.2 L519.9 144.5" stroke="#111" stroke-width="0.9" fill="none"/>
<path d="M519.2 96.4 L521.7 96.4 L520.1 107 Z" fill="#8a8a8a" stroke="none"/>
<path d="M528.6 96.2 L528.6 165.9" stroke="#555" stroke-width="0.9" fill="none"/>
<path d="M528.6 96.2 L528.6 110.1" stroke="#111" stroke-width="0.9" fill="none"/>
<path d="M527.9 96.4 L530.4 96.4 L528.8 107 Z" fill="#8a8a8a" stroke="none"/>
<path d="M537.2 96.2 L537.2 164.6" stroke="#555" stroke-width="0.9" fill="none"/>
<path d="M537.2 96.2 L537.2 106.5" stroke="#111" stroke-width="0.9" fill="none"/>
<path d="M536.5 96.4 L539.0 96.4 L537.4 107 Z" fill="#8a8a8a" stroke="none"/>
<path d="M545.9 96.2 L545.9 163.2" stroke="#555" stroke-width="0.9" fill="none"/>
<path d="M545.9 96.2 L545.9 123.0" stroke="#111" stroke-width="0.9" fill="none"/>
<path d="M545.2 96.4 L547.7 96.4 L546.1 107 Z" fill="#8a8a8a" stroke="none"/>
<path d="M554.6 96.2 L554.6 161.9" stroke="#555" stroke-width="0.9" fill="none"/>
<path d="M554.6 96.2 L554.6 115.9" stroke="#111" stroke-width="0.9" fill="none"/>
<path d="M553.9 96.4 L556.4 96.4 L554.8 107 Z" fill="#8a8a8a" stroke="none"/>
<path d="M563.2 96.2 L563.2 160.5" stroke="#555" stroke-width="0.9" fill="none"/>
<path d="M563.2 96.2 L563.2 105.8" stroke="#111" stroke-width="0.9" fill="none"/>
<path d="M562.5 96.4 L565.0 96.4 L563.4 107 Z" fill="#8a8a8a" stroke="none"/>
<path d="M571.9 96.2 L571.9 159.2" stroke="#555" stroke-width="0.9" fill="none"/>
<path d="M571.9 96.2 L571.9 130.8" stroke="#111" stroke-width="0.9" fill="none"/>
<path d="M571.2 96.4 L573.7 96.4 L572.1 107 Z" fill="#8a8a8a" stroke="none"/>
<path d="M580.6 96.2 L580.6 157.8" stroke="#555" stroke-width="0.9" fill="none"/>
<path d="M580.6 96.2 L580.6 117.8" stroke="#111" stroke-width="0.9" fill="none"/>
<path d="M579.9 96.4 L582.4 96.4 L580.8 107 Z" fill="#8a8a8a" stroke="none"/>
<path d="M589.2 96.2 L589.2 156.5" stroke="#555" stroke-width="0.9" fill="none"/>
<path d="M589.2 96.2 L589.2 108.3" stroke="#111" stroke-width="0.9" fill="none"/>
<path d="M588.5 96.4 L591.0 96.4 L589.4 107 Z" fill="#8a8a8a" stroke="none"/>
<path d="M597.9 96.2 L597.9 155.1" stroke="#555" stroke-width="0.9" fill="none"/>
<path d="M597.9 96.2 L597.9 134.5" stroke="#111" stroke-width="0.9" fill="none"/>
<path d="M597.2 96.4 L599.7 96.4 L598.1 107 Z" fill="#8a8a8a" stroke="none"/>
<path d="M606.6 96.2 L606.6 153.7" stroke="#555" stroke-width="0.9" fill="none"/>
<path d="M606.6 96.2 L606.6 113.5" stroke="#111" stroke-width="0.9" fill="none"/>
<path d="M605.9 96.4 L608.4 96.4 L606.8 107 Z" fill="#8a8a8a" stroke="none"/>
<path d="M615.2 96.2 L615.2 152.4" stroke="#555" stroke-width="0.9" fill="none"/>
<path d="M615.2 96.2 L615.2 124.3" stroke="#111" stroke-width="0.9" fill="none"/>
<path d="M614.5 96.4 L617.0 96.4 L615.4 107 Z" fill="#8a8a8a" stroke="none"/>
<path d="M623.9 96.2 L623.9 151.0" stroke="#555" stroke-width="0.9" fill="none"/>
<path d="M623.9 96.2 L623.9 107.2" stroke="#111" stroke-width="0.9" fill="none"/>
<path d="M623.2 96.4 L625.7 96.4 L624.1 107 Z" fill="#8a8a8a" stroke="none"/>
<path d="M632.6 96.2 L632.6 149.7" stroke="#555" stroke-width="0.9" fill="none"/>
<path d="M632.6 96.2 L632.6 120.3" stroke="#111" stroke-width="0.9" fill="none"/>
<path d="M631.9 96.4 L634.4 96.4 L632.8 107 Z" fill="#8a8a8a" stroke="none"/>
<path d="M641.2 96.2 L641.2 148.3" stroke="#555" stroke-width="0.9" fill="none"/>
<path d="M641.2 96.2 L641.2 111.8" stroke="#111" stroke-width="0.9" fill="none"/>
<path d="M640.5 96.4 L643.0 96.4 L641.4 107 Z" fill="#8a8a8a" stroke="none"/>
<path d="M649.9 96.2 L649.9 147.0" stroke="#555" stroke-width="0.9" fill="none"/>
<path d="M649.9 96.2 L649.9 124.1" stroke="#111" stroke-width="0.9" fill="none"/>
<path d="M649.2 96.4 L651.7 96.4 L650.1 107 Z" fill="#8a8a8a" stroke="none"/>
<path d="M658.6 96.2 L658.6 145.6" stroke="#555" stroke-width="0.9" fill="none"/>
<path d="M658.6 96.2 L658.6 111.0" stroke="#111" stroke-width="0.9" fill="none"/>
<path d="M657.9 96.4 L660.4 96.4 L658.8 107 Z" fill="#8a8a8a" stroke="none"/>
<path d="M667.2 96.2 L667.2 144.2" stroke="#555" stroke-width="0.9" fill="none"/>
<path d="M667.2 96.2 L667.2 132.2" stroke="#111" stroke-width="0.9" fill="none"/>
<path d="M666.5 96.4 L669.0 96.4 L667.4 107 Z" fill="#8a8a8a" stroke="none"/>
<path d="M675.9 96.2 L675.9 142.9" stroke="#555" stroke-width="0.9" fill="none"/>
<path d="M675.9 96.2 L675.9 131.2" stroke="#111" stroke-width="0.9" fill="none"/>
<path d="M675.2 96.4 L677.7 96.4 L676.1 107 Z" fill="#8a8a8a" stroke="none"/>
<path d="M527.8 357.5 C529.2 357.1 533.2 355.9 536.0 354.8 C538.8 353.7 541.5 352.3 544.4 350.6 C547.3 348.9 550.2 346.8 553.2 344.6 C556.2 342.4 559.2 339.9 562.1 337.4 C565.0 334.9 567.8 332.4 570.7 329.8 C573.6 327.2 576.6 324.6 579.6 322.0 C582.6 319.4 585.6 316.9 588.5 314.5 C591.4 312.1 594.1 309.8 597.1 307.5 C600.1 305.2 603.6 302.8 606.7 300.5 C609.8 298.2 612.8 296.0 615.9 294.0 C619.0 292.0 622.1 290.1 625.2 288.3 C628.3 286.5 631.4 284.8 634.4 283.2 C637.4 281.6 640.2 280.2 643.3 278.8 C646.4 277.4 649.7 275.9 652.9 274.6 C656.1 273.3 659.3 272.2 662.5 271.2 C665.7 270.2 668.8 269.3 672.0 268.4 C675.2 267.5 678.6 266.7 681.9 266.0 C685.1 265.3 689.9 264.3 691.5 264.0" fill="none" stroke="#111" stroke-width="1.0"/>
<rect x="525.3" y="354.6" width="4.9" height="4.9" fill="#111"/>
<rect x="533.5" y="353.1" width="4.9" height="4.9" fill="#111"/>
<rect x="541.9" y="348.4" width="4.9" height="4.9" fill="#111"/>
<rect x="550.8" y="341.2" width="4.9" height="4.9" fill="#111"/>
<rect x="559.6" y="334.4" width="4.9" height="4.9" fill="#111"/>
<rect x="568.2" y="326.8" width="4.9" height="4.9" fill="#111"/>
<rect x="577.1" y="318.9" width="4.9" height="4.9" fill="#111"/>
<rect x="586.0" y="314.2" width="4.9" height="4.9" fill="#111"/>
<rect x="594.6" y="304.9" width="4.9" height="4.9" fill="#111"/>
<rect x="604.2" y="299.8" width="4.9" height="4.9" fill="#111"/>
<rect x="613.4" y="291.2" width="4.9" height="4.9" fill="#111"/>
<rect x="622.8" y="285.6" width="4.9" height="4.9" fill="#111"/>
<rect x="631.9" y="279.6" width="4.9" height="4.9" fill="#111"/>
<rect x="640.8" y="275.7" width="4.9" height="4.9" fill="#111"/>
<rect x="650.4" y="270.4" width="4.9" height="4.9" fill="#111"/>
<rect x="660.0" y="267.7" width="4.9" height="4.9" fill="#111"/>
<rect x="669.5" y="265.1" width="4.9" height="4.9" fill="#111"/>
<rect x="679.4" y="265.8" width="4.9" height="4.9" fill="#111"/>
<rect x="689.0" y="262.4" width="4.9" height="4.9" fill="#111"/>
</svg></div>
</body></html>
